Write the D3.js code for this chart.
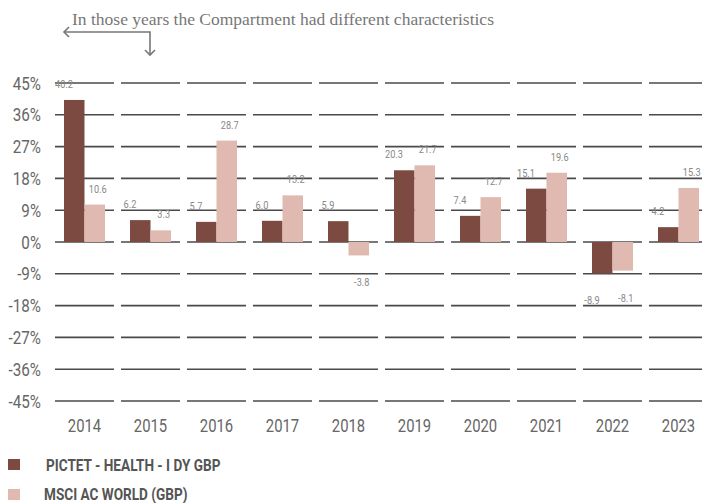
<!DOCTYPE html>
<html>
  <head>
    <meta charset="utf-8">
    <title>Pictet Health vs MSCI AC World</title>
    <script src="https://cdn.jsdelivr.net/npm/d3@7/dist/d3.min.js"></script>
    <style>
      body { margin: 0; background: #fff; }
      #chart { display: block; }
      .tick-label { font-family: Roboto, "Noto Sans", sans-serif; font-size: 19px; fill: #666; }
      .val { font-family: Roboto, "Noto Sans", sans-serif; font-size: 11.5px; fill: #888; }
      .note { font-family: "Liberation Serif", "DejaVu Serif", serif; font-size: 17.5px; fill: #777; }
      .legendLabel { font-family: Roboto, "Noto Sans", sans-serif; font-weight: bold; font-size: 17px; fill: #555; }
    </style>
  </head>

  <body>
    <svg id="chart" width="702" height="503"></svg>

    <script>
      // data
      years = ["2014", "2015", "2016", "2017", "2018", "2019", "2020", "2021", "2022", "2023"];
      fund = [40.2, 6.2, 5.7, 6.0, 5.9, 20.3, 7.4, 15.1, -8.9, 4.2];
      index = [10.6, 3.3, 28.7, 13.2, -3.8, 21.7, 12.7, 19.6, -8.1, 15.3];
      seriesNames = ["PICTET - HEALTH - I DY GBP", "MSCI AC WORLD (GBP)"];
      yTicks = [45, 36, 27, 18, 9, 0, -9, -18, -27, -36, -45];
      colours = ["#7d4a42", "#e0bab0"];

      rows = years.map(function(y, i) {
        return { year: y, values: [fund[i], index[i]] };
      });

      chart = d3.select("#chart");

      x = d3.scaleBand()
        .domain(years)
        .range([51.5, 711.5])
        .paddingInner(0.106)
        .paddingOuter(0.053);
      xInner = d3.scaleBand()
        .domain([0, 1])
        .range([9, 50]);
      y = d3.scaleLinear()
        .domain([-45, 45])
        .range([401, 83]);

      // no narrow font installed, so squeeze text horizontally
      function squeeze(sel, fx, fy, sx) {
        sel.attr("transform", function(d, i) {
          return "translate(" + fx(d, i) + "," + fy(d, i) + ") scale(" + sx + ",1)";
        });
      }

      // segmented gridlines, one per year
      grid = chart.append("g");
      yTicks.forEach(function(t) {
        grid.selectAll(null)
          .data(years)
          .enter().append("line")
            .attr("x1", function(d) { return x(d); })
            .attr("x2", function(d) { return x(d) + x.bandwidth(); })
            .attr("y1", y(t))
            .attr("y2", y(t))
            .attr("stroke", "#4a4a4a")
            .attr("stroke-width", 1.6);
      });

      // y labels
      yLabels = chart.append("g")
        .selectAll("text")
          .data(yTicks)
        .enter().append("text")
          .attr("class", "tick-label")
          .attr("dy", "0.35em")
          .attr("text-anchor", "end")
          .text(function(d) { return d + "%"; });
      squeeze(yLabels, function() { return 41; }, function(d) { return y(d); }, 0.8);

      // x labels
      xLabels = chart.append("g")
        .selectAll("text")
          .data(years)
        .enter().append("text")
          .attr("class", "tick-label")
          .attr("dy", "0.35em")
          .attr("text-anchor", "middle")
          .text(function(d) { return d; });
      squeeze(xLabels, function(d) { return x(d) + x.bandwidth() / 2; }, function() { return 425; }, 0.78);

      // bars
      groups = chart.append("g")
        .selectAll("g")
          .data(rows)
        .enter().append("g")
          .attr("transform", function(d) { return "translate(" + x(d.year) + ",0)"; });

      groups.selectAll("rect")
        .data(function(d) { return d.values; })
        .enter().append("rect")
          .attr("x", function(d, i) { return xInner(i); })
          .attr("width", xInner.bandwidth())
          .attr("y", function(d) { return y(Math.max(0, d)); })
          .attr("height", function(d) { return Math.abs(y(d) - y(0)); })
          .attr("fill", function(d, i) { return colours[i]; });

      valLabels = groups.selectAll("text")
        .data(function(d) { return d.values; })
        .enter().append("text")
          .attr("class", "val")
          .attr("dy", "0.35em")
          .attr("text-anchor", "middle")
          .text(function(d) { return d.toFixed(1); });
      squeeze(valLabels,
        function(d, i) { return i == 0 ? xInner(i) : xInner(i) + xInner.bandwidth() / 2 + 3; },
        function(d) { return d >= 0 ? y(d) - 16 : y(d) + 27; },
        0.8);

      // note + arrow
      chart.append("text")
        .attr("class", "note")
        .attr("x", 72)
        .attr("y", 25)
        .text("In those years the Compartment had different characteristics");

      arrow = chart.append("g")
        .attr("fill", "none")
        .attr("stroke", "#777")
        .attr("stroke-width", 1.6);
      arrow.append("path").attr("d", "M64,32 H150 V55");
      arrow.append("path").attr("d", "M69,27 L64,32 L69,37");
      arrow.append("path").attr("d", "M145,50 L150,55 L155,50");

      // legend
      legend = chart.append("g");
      seriesNames.forEach(function(name, i) {
        legend.append("rect")
          .attr("x", 8)
          .attr("y", 459 + i * 30)
          .attr("width", 12)
          .attr("height", 11)
          .attr("fill", colours[i]);
        legend.append("text")
          .attr("class", "legendLabel")
          .attr("dy", "0.35em")
          .attr("transform", "translate(" + (i == 0 ? 46 : 44) + "," + (465 + i * 29) + ") scale(0.8,1)")
          .text(name);
      });
    </script>
  </body>
</html>
